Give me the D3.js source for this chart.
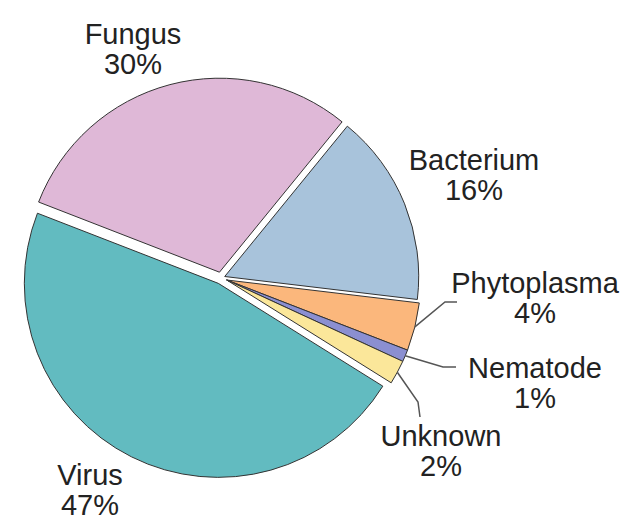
<!DOCTYPE html>
<html>
<head>
<meta charset="utf-8">
<script src="https://cdn.jsdelivr.net/npm/d3@7"></script>
<style>
  html, body { margin: 0; padding: 0; background: #fff; }
  svg { display: block; }
  text { font-family: "Liberation Sans", Arial, sans-serif; fill: #222; }
</style>
</head>
<body>
<svg id="chart" width="629" height="524"></svg>
<script>
// ---- data ----
const categories = ["Fungus", "Bacterium", "Phytoplasma", "Nematode", "Unknown", "Virus"];
const values = [30, 16, 4, 1, 2, 47];
const percentLabels = ["30%", "16%", "4%", "1%", "2%", "47%"];
const colors = ["#dfb8d7", "#a8c3db", "#fbb77c", "#8b8fd1", "#fbe79a", "#62bbc0"];

// ---- layout ----
const W = 629, H = 524;
const cx = 221, cy = 278, R = 194;
const startDeg = -68.8;
// explosion distance per slice
const explode = { Fungus: 6, Bacterium: 4, Phytoplasma: 6, Nematode: 6, Unknown: 6, Virus: 6 };
// shared offset for the three small slices (they are pulled out together)
const groupSmall = ["Phytoplasma", "Nematode", "Unknown"];
// label anchor (center x, baseline of first line)
const labelPos = {
  Fungus: [133, 44], Bacterium: [474, 170], Phytoplasma: [535, 293],
  Nematode: [535, 378], Unknown: [441, 446], Virus: [90, 485]
};
// leader line knee/end points
const leaders = {
  Phytoplasma: [[445, 302], [457, 302]],
  Nematode: [[443, 367], [456, 367]],
  Unknown: [[418, 402], [420, 417]]
};

const svg = d3.select("#chart");
const data = categories.map((c, i) => ({ name: c, value: values[i], pct: percentLabels[i], color: colors[i] }));

const pie = d3.pie().sort(null).value(d => d.value)
  .startAngle(startDeg * Math.PI / 180)
  .endAngle(startDeg * Math.PI / 180 + 2 * Math.PI);
const arcs = pie(data);
const arc = d3.arc().innerRadius(0).outerRadius(R);

// group mid angle for small slices
const smallArcs = arcs.filter(a => groupSmall.includes(a.data.name));
const smallMid = (smallArcs[0].startAngle + smallArcs[smallArcs.length - 1].endAngle) / 2;

function offsetOf(a) {
  const mid = groupSmall.includes(a.data.name) ? smallMid : (a.startAngle + a.endAngle) / 2;
  const d = explode[a.data.name];
  return [Math.sin(mid) * d, -Math.cos(mid) * d];
}

const g = svg.append("g").attr("transform", `translate(${cx},${cy})`);

g.selectAll("path.slice").data(arcs).join("path")
  .attr("class", "slice")
  .attr("transform", a => { const o = offsetOf(a); return `translate(${o[0]},${o[1]})`; })
  .attr("d", arc)
  .attr("fill", a => a.data.color)
  .attr("stroke", "#333")
  .attr("stroke-width", 1)
  .attr("stroke-linejoin", "round");

// leader lines
arcs.filter(a => leaders[a.data.name]).forEach(a => {
  const o = offsetOf(a);
  const mid = (a.startAngle + a.endAngle) / 2;
  const p0 = [cx + o[0] + Math.sin(mid) * R, cy + o[1] - Math.cos(mid) * R];
  const pts = [p0].concat(leaders[a.data.name]);
  svg.append("path")
    .attr("d", d3.line()(pts))
    .attr("fill", "none")
    .attr("stroke", "#555")
    .attr("stroke-width", 1.5);
});

// labels
arcs.forEach(a => {
  const [x, y] = labelPos[a.data.name];
  const t = svg.append("text")
    .attr("x", x).attr("y", y)
    .attr("text-anchor", "middle")
    .style("font-size", "29px");
  t.append("tspan").attr("x", x).attr("y", y).text(a.data.name);
  t.append("tspan").attr("x", x).attr("y", y + 30).text(a.data.pct);
});
</script>
</body>
</html>
